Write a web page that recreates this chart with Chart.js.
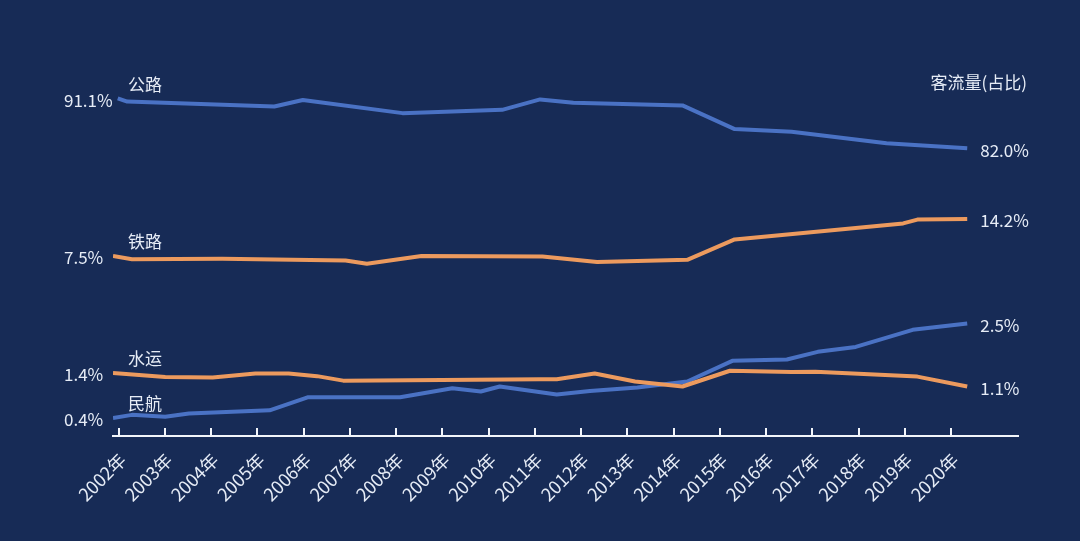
<!DOCTYPE html>
<html>
<head>
<meta charset="utf-8">
<script src="https://cdn.jsdelivr.net/npm/chart.js@4.4.1/dist/chart.umd.min.js"></script>
<style>
  html, body { margin: 0; padding: 0; background: #172b56; }
  #wrap { width: 1080px; height: 541px; }
</style>
</head>
<body>
<div id="wrap"><canvas id="shareChart"></canvas></div>
<script>
// 客流量占比, values (x = year position along the line)
const tickYears = [2002, 2003, 2004, 2005, 2006, 2007, 2008, 2009, 2010, 2011,
                   2012, 2013, 2014, 2015, 2016, 2017, 2018, 2019, 2020];

const roadYears = [2002.1, 2002.3, 2005.4, 2006.0, 2008.1, 2010.2, 2011.0, 2011.7, 2014.0, 2015.1, 2016.3, 2018.3, 2020];
const roadShare = [91.1, 90.5, 89.6, 90.8, 88.4, 89.0, 90.9, 90.3, 89.8, 85.5, 85.0, 82.9, 82.0];

const railYears = [2002, 2002.4, 2004.3, 2006.9, 2007.35, 2008.5, 2011.05, 2012.2, 2014.1, 2015.1, 2018.65, 2018.95, 2020];
const railShare = [7.5, 6.9, 7.0, 6.7, 6.1, 7.5, 7.4, 6.4, 6.8, 10.5, 13.4, 14.1, 14.2];

const waterYears = [2002, 2003.1, 2004.1, 2005.0, 2005.7, 2006.3, 2006.85, 2011.0, 2011.35, 2012.15, 2013.0, 2014.0, 2015.0, 2016.3, 2016.8, 2018.95, 2020];
const waterShare = [1.4, 1.31, 1.30, 1.39, 1.39, 1.33, 1.23, 1.26, 1.26, 1.39, 1.21, 1.10, 1.45, 1.42, 1.43, 1.32, 1.1];

const airYears = [2002, 2002.4, 2003.1, 2003.6, 2005.3, 2006.1, 2008.05, 2009.15, 2009.75, 2010.15, 2011.35, 2012.05, 2013.05, 2014.1, 2015.05, 2016.2, 2016.85, 2017.65, 2018.85, 2020];
const airShare = [0.4, 0.47, 0.43, 0.50, 0.57, 0.86, 0.86, 1.06, 0.99, 1.10, 0.92, 1.00, 1.08, 1.21, 1.67, 1.70, 1.87, 1.98, 2.36, 2.5];

const unitTitle = '客流量(占比)';

const blue = '#4a72c4';
const orange = '#ec9a5e';
const textColor = '#e6ecf6';
const fontFamily = '"Noto Sans CJK SC", "Noto Sans", sans-serif';

function pairs(xs, ys) {
  return xs.map((x, i) => ({ x: x, y: ys[i] }));
}

// names and start / end values next to each line
const lineLabels = {
  id: 'lineLabels',
  afterDatasetsDraw(chart) {
    const ctx = chart.ctx;
    const area = chart.chartArea;
    ctx.save();
    ctx.fillStyle = textColor;
    ctx.textBaseline = 'middle';
    ctx.font = '17px ' + fontFamily;
    chart.data.datasets.forEach((ds, i) => {
      const pts = chart.getDatasetMeta(i).data;
      const first = pts[0];
      const last = pts[pts.length - 1];
      ctx.textAlign = 'left';
      ctx.fillText(ds.label, area.left + 15, first.y - 14);
      ctx.fillText(ds.data[0].y.toFixed(1) + '%', area.left - 49, first.y + 2);
      ctx.fillText(ds.data[ds.data.length - 1].y.toFixed(1) + '%', last.x + 13, last.y + 2);
    });
    ctx.textAlign = 'right';
    ctx.fillText(unitTitle, area.right + 9, 83);
    ctx.restore();
  }
};

const lineStyle = { borderWidth: 4, pointRadius: 0, tension: 0, fill: false, borderJoinStyle: 'round' };

new Chart(document.getElementById('shareChart'), {
  type: 'line',
  data: {
    datasets: [
      Object.assign({ label: '公路', data: pairs(roadYears, roadShare), borderColor: blue, yAxisID: 'yRoad' }, lineStyle),
      Object.assign({ label: '铁路', data: pairs(railYears, railShare), borderColor: orange, yAxisID: 'yRail' }, lineStyle),
      Object.assign({ label: '水运', data: pairs(waterYears, waterShare), borderColor: orange, yAxisID: 'yLow' }, lineStyle),
      Object.assign({ label: '民航', data: pairs(airYears, airShare), borderColor: blue, yAxisID: 'yLow' }, lineStyle)
    ]
  },
  options: {
    responsive: true,
    maintainAspectRatio: false,
    animation: false,
    layout: { padding: { left: 113, right: 62, top: 40, bottom: 0 } },
    plugins: {
      legend: { display: false },
      tooltip: { enabled: false }
    },
    scales: {
      x: { type: 'linear', display: false, min: 2002, max: 2021.07 },
      xYear: {
        type: 'linear',
        position: 'bottom',
        min: 2001.877,
        max: 2021.448,
        afterBuildTicks: scale => { scale.ticks = tickYears.map(v => ({ value: v })); },
        afterFit: scale => { scale.height = 105; },
        border: { display: true, color: '#f2f5fa', width: 2 },
        grid: { display: true, drawOnChartArea: false, drawTicks: true, tickLength: -8, color: '#f2f5fa', lineWidth: 2 },
        ticks: {
          autoSkip: false,
          minRotation: 45,
          maxRotation: 45,
          padding: 21,
          labelOffset: 4,
          color: textColor,
          font: { family: fontFamily, size: 18 },
          callback: v => v + '年'
        }
      },
      yRoad: { type: 'linear', display: false, min: 29.64, max: 101.71 },
      yRail: { type: 'linear', display: false, min: -25.11, max: 46.63 },
      yLow: { type: 'linear', display: false, min: 0, max: 8.8 }
    }
  },
  plugins: [lineLabels]
});
</script>
</body>
</html>
